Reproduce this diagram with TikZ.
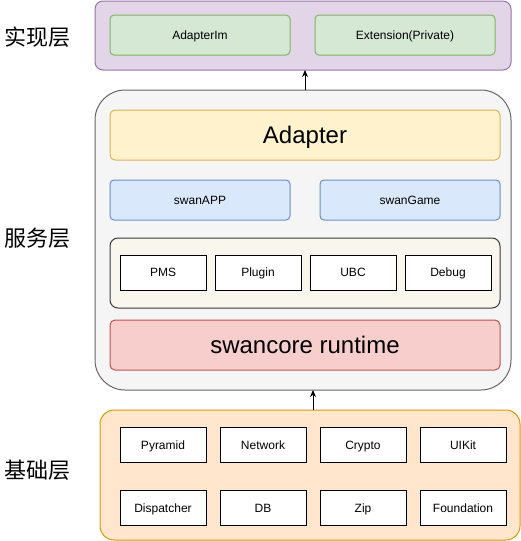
\documentclass[tikz,border=0pt]{standalone}
\usepackage{fontspec}
\setmainfont{Liberation Sans}
\newfontfamily\cjk{Noto Sans CJK SC}
\usetikzlibrary{arrows.meta}
\definecolor{purpleF}{HTML}{E1D5E7}\definecolor{purpleD}{HTML}{9673A6}
\definecolor{greenF}{HTML}{D5E8D4}\definecolor{greenD}{HTML}{82B366}
\definecolor{grayF}{HTML}{F5F5F5}\definecolor{grayD}{HTML}{666666}
\definecolor{yellowF}{HTML}{FFF2CC}\definecolor{yellowD}{HTML}{D6B656}
\definecolor{blueF}{HTML}{DAE8FC}\definecolor{blueD}{HTML}{6C8EBF}
\definecolor{creamF}{HTML}{F9F7ED}\definecolor{creamD}{HTML}{36393D}
\definecolor{redF}{HTML}{F8CECC}\definecolor{redD}{HTML}{B85450}
\definecolor{orangeF}{HTML}{FFE6CC}\definecolor{orangeD}{HTML}{D79B00}
\begin{document}
\begin{tikzpicture}[x=1pt,y=-1pt,
  base/.style={line width=1pt, inner sep=0pt, outer sep=0pt, font=\fontsize{12}{14}\selectfont, text height=8.6pt, text depth=0pt},
  panel/.style={base, draw=#1D, fill=#1F},
  small/.style={minimum width=180pt, minimum height=40pt, rounded corners=4pt},
  wide/.style={minimum width=390pt, minimum height=50pt, rounded corners=5pt, font=\fontsize{24}{28}\selectfont, text height=17.2pt},
  unit/.style={base, draw=black, fill=white, minimum width=86pt, minimum height=35pt},
  layer/.style={font=\cjk\fontsize{22}{26}\selectfont, inner sep=0pt},
  arr/.style={line width=1pt, -{Stealth[length=7pt,width=6pt]}}
]
\useasboundingbox (0,0) rectangle (521,541);
% implementation layer
\node[panel=purple, minimum width=416pt, minimum height=69pt, rounded corners=8pt] (impl) at (303,35.5) {};
\node[panel=green, small] (adim) at (200,35) {AdapterIm};
\node[panel=green, small] (ext) at (405,35) {Extension(Private)};
% service layer
\node[panel=gray, minimum width=416pt, minimum height=300pt, rounded corners=30pt] (svc) at (303,240) {};
\node[panel=yellow, wide] (adapter) at (305,135) {Adapter};
\node[panel=blue, small] (app) at (200,200) {swanAPP};
\node[panel=blue, small] (game) at (410,200) {swanGame};
\node[panel=cream, minimum width=390pt, minimum height=70pt, rounded corners=8pt] (inner) at (305,273) {};
\node[unit] (pms) at (163,272.5) {PMS};
\node[unit] (plugin) at (258,272.5) {Plugin};
\node[unit] (ubc) at (353,272.5) {UBC};
\node[unit] (debug) at (448,272.5) {Debug};
\node[panel=red, wide] (core) at (305,345) {swancore runtime};
% foundation layer
\node[panel=orange, minimum width=420pt, minimum height=130pt, rounded corners=14pt] (fnd) at (310,475) {};
\node[unit] (pyramid) at (163,445) {Pyramid};
\node[unit] (network) at (263,445) {Network};
\node[unit] (crypto) at (363,445) {Crypto};
\node[unit] (uikit) at (463,445) {UIKit};
\node[unit] (disp) at (163,508) {Dispatcher};
\node[unit] (db) at (263,508) {DB};
\node[unit] (zip) at (363,508) {Zip};
\node[unit] (foundation) at (463,508) {Foundation};
% arrows
\draw[arr] (adapter.north |- svc.north) -- (adapter.north |- impl.south);
\draw[arr] ([xshift=3pt]fnd.north) -- ([xshift=3pt]fnd.north |- svc.south);
% layer labels
\node[layer] (l1) at (38,37) {实现层};
\node[layer] (l2) at (38,238) {服务层};
\node[layer] (l3) at (38,470) {基础层};
\end{tikzpicture}
\end{document}
